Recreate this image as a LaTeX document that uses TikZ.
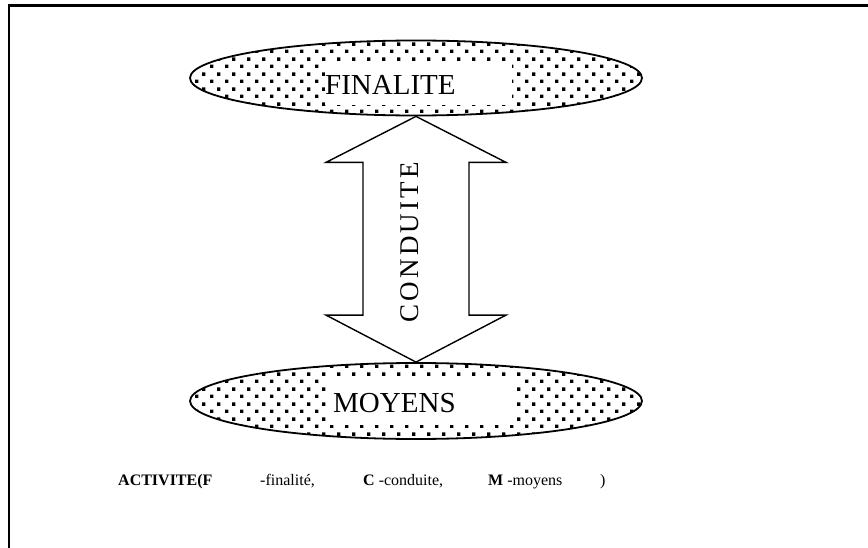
\documentclass[tikz,border=0pt]{standalone}
\usepackage{fontspec}
\setmainfont{Liberation Serif}
\usetikzlibrary{shapes.geometric,patterns,calc}

\pgfdeclarepatternformonly{ckdots}{\pgfpointorigin}{\pgfpoint{15pt}{15pt}}{\pgfpoint{15pt}{15pt}}{%
  \pgfpathrectangle{\pgfpoint{0pt}{0pt}}{\pgfpoint{3.6pt}{3.6pt}}%
  \pgfpathrectangle{\pgfpoint{7.5pt}{7.5pt}}{\pgfpoint{3.6pt}{3.6pt}}%
  \pgfusepath{fill}}

\begin{document}
\begin{tikzpicture}[x=1pt,y=-1pt,
    blob/.style={ellipse,draw,line width=1.8pt,pattern=ckdots,minimum width=452pt,inner sep=0pt},
    labelbox/.style={fill=white,inner sep=0pt},
    big/.style={inner sep=0pt,anchor=base west,font=\fontsize{29}{32}\selectfont},
    legend/.style={inner sep=0pt,anchor=base west,font=\fontsize{16}{19}\selectfont}]
            \useasboundingbox (0,0) rectangle (868,548);
            \draw[line width=2.5pt] (9,548) -- (9,5.5) -- (868,5.5);

            \node[blob,minimum height=75pt] (fin) at (416,78) {};
            \node[labelbox,minimum width=187pt,minimum height=43pt] (finbox) at (418.5,83.5) {};
            \node[big] (fintxt) at (325,95) {FINALITE};

            \node[blob,minimum height=76pt] (moy) at (416,401) {};
            \node[labelbox,minimum width=189pt,minimum height=47pt] (moybox) at (422.5,401.5) {};
            \node[big] (moytxt) at (333,412) {MOYENS};

            % double arrow between the two ellipses
            \coordinate (top) at (fin.south);
            \coordinate (bot) at (moy.north);
            \draw[line width=1.4pt,line join=miter] (top) -- ($(top)+(90,46)$) -- ($(top)+(53,46)$)
                -- ($(bot)+(53,-47)$) -- ($(bot)+(90,-47)$) -- (bot)
                -- ($(bot)+(-90,-47)$) -- ($(bot)+(-53,-47)$)
                -- ($(top)+(-53,46)$) -- ($(top)+(-90,46)$) -- cycle;
            \node[rotate=90,inner sep=0pt,font=\fontsize{27}{30}\selectfont\addfontfeatures{LetterSpace=12}] (cond)
                at ($(top)!0.5!(bot)+(-6,3)$) {CONDUITE};

            \node[legend] (act) at (118,485) {\textbf{ACTIVITE(F}};
            \node[legend] (lfin) at (260,485) {-finalité,};
            \node[legend] (lcond) at (363,485) {\textbf{C} -conduite,};
            \node[legend] (lmoy) at (488,485) {\textbf{M} -moyens};
            \node[legend] (lend) at (600,485) {)};
\end{tikzpicture}
\end{document}
